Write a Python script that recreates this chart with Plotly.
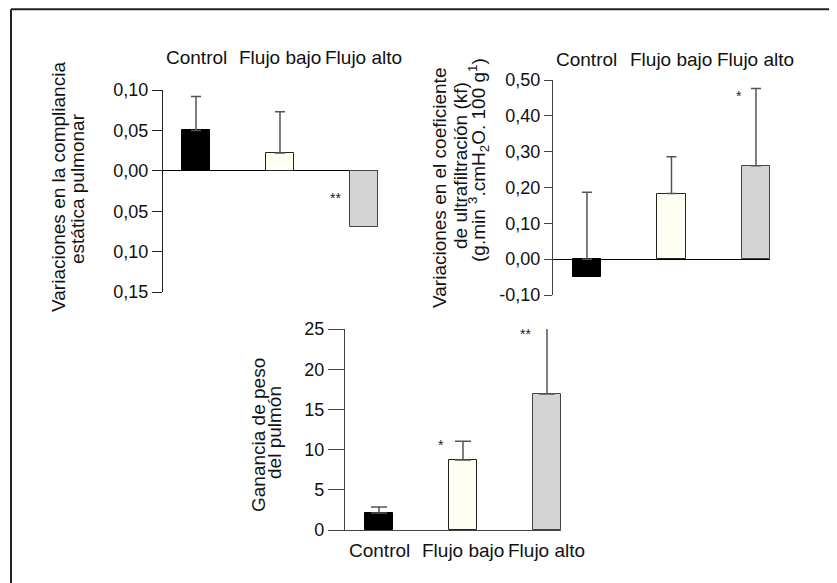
import plotly.graph_objects as go

# ---------------- data ----------------
categories = ["Control", "Flujo bajo", "Flujo alto"]

compliancia = [0.050, 0.022, -0.069]          # panel 1 means
compliancia_top = [0.092, 0.073, None]        # whisker tops

kf = [-0.050, 0.183, 0.261]                   # panel 2 means
kf_top = [0.187, 0.286, 0.476]                # whisker tops

peso = [2.1, 8.7, 16.9]                       # panel 3 means
peso_top = [2.85, 11.05, 25.25]               # whisker tops

p1_ticks = [0.10, 0.05, 0.00, -0.05, -0.10, -0.15]
p1_ticktext = ["0,10", "0,05", "0,00", "0,05", "0,10", "0,15"]
p2_ticks = [0.50, 0.40, 0.30, 0.20, 0.10, 0.00, -0.10]
p2_ticktext = ["0,50", "0,40", "0,30", "0,20", "0,10", "0,00", "-0,10"]
p3_ticks = [0, 5, 10, 15, 20, 25]
p3_ticktext = ["0", "5", "10", "15", "20", "25"]

# significance markers: (category index, y value, label)
p1_stars = [(2, -0.030, "**")]
p2_stars = [(2, 0.464, "*")]
p3_stars = [(1, 10.9, "*"), (2, 24.75, "**")]

bar_colors = ["#000000", "#FFFFF2", "#D4D4D4"]
bar_lines = ["#000000", "#222222", "#444444"]

# ---------------- layout helpers ----------------
OFF = 8  # page body margin
W, H = 837 - OFF, 583 - OFF
FONT = "Liberation Sans, Arial, Helvetica, sans-serif"


def fx(px):
    return (px - OFF) / W


def fy(py):
    return 1 - (py - OFF) / H


idx = list(range(len(categories)))

fig = go.Figure()


def add_panel(n, values, tops, err_width):
    xa = "x" if n == 1 else f"x{n}"
    ya = "y" if n == 1 else f"y{n}"
    fig.add_trace(go.Bar(
        x=idx, y=values, width=0.333,
        marker=dict(color=bar_colors, line=dict(color=bar_lines, width=1)),
        xaxis=xa, yaxis=ya, hoverinfo="skip", cliponaxis=False,
    ))
    base = [None if t is None else max(v, 0) for v, t in zip(values, tops)]
    plus = [0 if t is None else t - max(v, 0) for v, t in zip(values, tops)]
    fig.add_trace(go.Scatter(
        x=idx, y=base, mode="markers",
        marker=dict(opacity=0, size=1),
        error_y=dict(type="data", symmetric=False, array=plus,
                     arrayminus=[0] * len(idx), color="#555555",
                     thickness=1.5, width=err_width),
        xaxis=xa, yaxis=ya, hoverinfo="skip", cliponaxis=False,
    ))


add_panel(1, compliancia, compliancia_top, 5)
add_panel(2, kf, kf_top, 5)
add_panel(3, peso, peso_top, 8)

tickfont = dict(family=FONT, size=18, color="#111111")


def xaxis_cfg(x0, x1, rng, anchor, showline=False, lc="#333333"):
    return dict(domain=[fx(x0), fx(x1)], range=rng, anchor=anchor,
                showgrid=False, zeroline=False, showticklabels=False,
                ticks="", showline=showline, linecolor=lc, linewidth=1.2,
                automargin=False, fixedrange=True)


def yaxis_cfg(y0, y1, rng, anchor, tv, tt, ticklen, zeroline, lc):
    return dict(domain=[fy(y1), fy(y0)], range=rng, anchor=anchor,
                showgrid=False, zeroline=zeroline, zerolinecolor="#000000",
                zerolinewidth=1.2, showline=True, linecolor=lc,
                linewidth=1.2, ticks="outside", ticklen=ticklen,
                tickcolor=lc, tickwidth=1.2, tickvals=tv, ticktext=tt,
                tickfont=tickfont, automargin=False, fixedrange=True)


fig.update_layout(
    width=W, height=H, margin=dict(l=0, r=0, t=0, b=0, pad=0),
    paper_bgcolor="white", plot_bgcolor="rgba(0,0,0,0)", showlegend=False,
    bargap=0,
    xaxis=xaxis_cfg(163, 378, [-0.393, 2.167], "y"),
    yaxis=yaxis_cfg(90, 292, [-0.15, 0.10], "x", p1_ticks, p1_ticktext, 10, True, "#222222"),
    xaxis2=xaxis_cfg(553, 770, [-0.402, 2.166], "y2"),
    yaxis2=yaxis_cfg(80, 295, [-0.10, 0.50], "x2", p2_ticks, p2_ticktext, 8, True, "#444444"),
    xaxis3=xaxis_cfg(345, 561, [-0.405, 2.167], "y3", showline=True, lc="#444444"),
    yaxis3=yaxis_cfg(329, 530, [0, 25], "x3", p3_ticks, p3_ticktext, 16, False, "#444444"),
)

annots = []
labfont = dict(family=FONT, size=19, color="#111111")

# category labels
for xr, ypx in (("x", 58), ("x2", 60), ("x3", 550)):
    for i, c in zip(idx, categories):
        annots.append(dict(x=i, y=fy(ypx), xref=xr, yref="paper", text=c,
                           showarrow=False, font=labfont,
                           xanchor="center", yanchor="middle"))

# axis titles (one annotation per line)
titles = [
    ("Variaciones en la compliancia", 58, 187),
    ("estática pulmonar", 77, 189),
    ("Variaciones en el coeficiente", 440, 188),
    ("de ultrafiltración (kf)", 460, 166),
    ("(g.min <sup>3</sup>.cmH<sub>2</sub>O. 100 g<sup>1</sup>)", 478, 160),
    ("Ganancia de peso", 258, 435),
    ("del pulmón", 274, 433),
]
for t, xp, yp in titles:
    annots.append(dict(x=fx(xp), y=fy(yp), xref="paper", yref="paper", text=t,
                       showarrow=False, textangle=-90, font=labfont,
                       xanchor="center", yanchor="middle"))

# significance stars
starfont = dict(family=FONT, size=14, color="#222222")
for xr, yr, stars, dx in (("x", "y", p1_stars, -0.34), ("x2", "y2", p2_stars, -0.2),
                          ("x3", "y3", p3_stars, -0.26)):
    for ci, yv, lab in stars:
        annots.append(dict(x=ci + dx, y=yv, xref=xr, yref=yr, text=lab,
                           showarrow=False, font=starfont,
                           xanchor="center", yanchor="middle", yshift=-3))

fig.update_layout(annotations=annots)

# outer frame: only the top and left edges are visible in the crop
frame = dict(color="#222222", width=2)
fig.add_shape(type="line", xref="paper", yref="paper",
              x0=fx(11), y0=1 - 1.2 / H, x1=1, y1=1 - 1.2 / H, line=frame)
fig.add_shape(type="line", xref="paper", yref="paper",
              x0=fx(11), y0=1 - 1.2 / H, x1=fx(11), y1=0, line=frame)

fig.write_html("out.html")
